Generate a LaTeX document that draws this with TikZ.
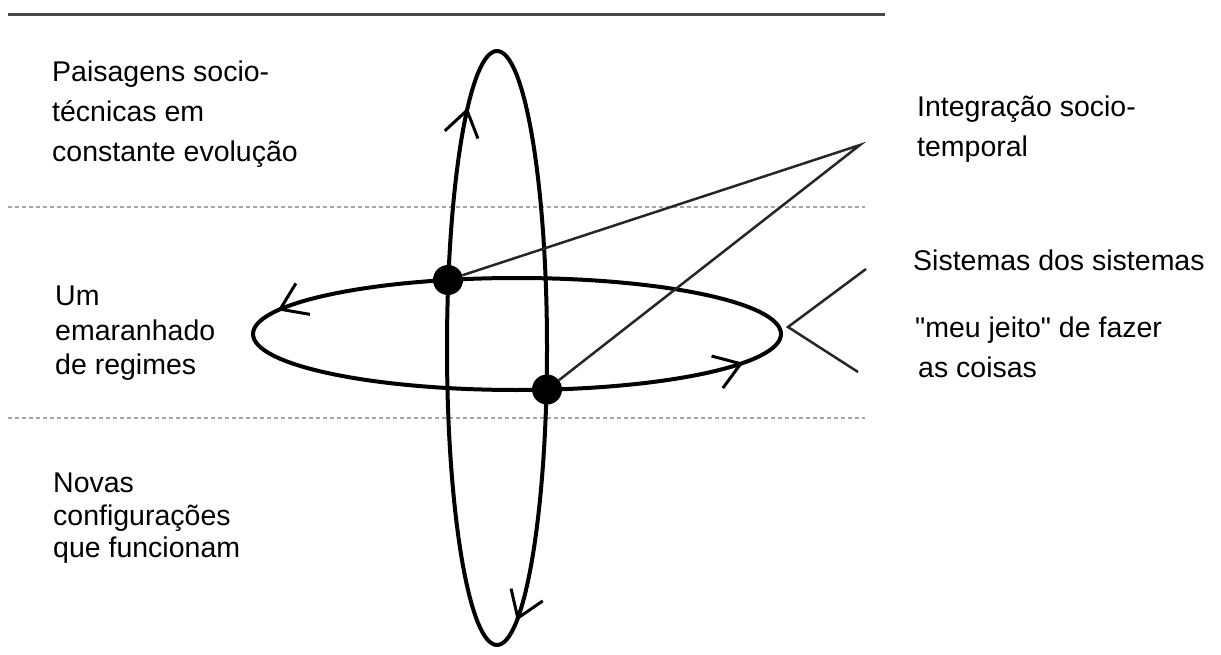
\documentclass[tikz,border=0pt]{standalone}
\usepackage{fontspec}
\setmainfont{Liberation Sans}[Ligatures=TeXOff]
\usetikzlibrary{arrows.meta}
\begin{document}
\begin{tikzpicture}[x=1pt,y=1pt,
  loopline/.style={line width=4pt},
  conn/.style={line width=2.5pt, draw=black!85},
  tipmark/.style={line width=3pt,-{Straight Barb[length=25pt,width=34pt]}},
  lbl/.style={anchor=base west, inner sep=0pt, font=\fontsize{28.5}{33}\selectfont},
  dotnode/.style={circle, fill=black, minimum size=30pt, inner sep=0pt},
  guide/.style={draw=black!35, line width=1.5pt, dash pattern=on 4pt off 3pt}]
\useasboundingbox (0,0) rectangle (1221,-655);
% guide lines
\draw[line width=3pt, draw=black!72] (8,-15) -- (885,-15);
\draw[guide] (8,-207) -- (865,-207);
\draw[guide] (8,-418) -- (865,-418);
% loops
\draw[loopline] (517,-334) ellipse [x radius=264pt, y radius=56pt];
\draw[loopline] (497,-348) ellipse [x radius=50pt, y radius=297pt];
% arrow tips
\draw[tipmark] (517,-334) ++(147:264pt and 56pt) arc[start angle=147, end angle=155, x radius=264pt, y radius=56pt];
\draw[tipmark] (517,-334) ++(321:264pt and 56pt) arc[start angle=321, end angle=329, x radius=264pt, y radius=56pt];
\draw[tipmark] (497,-348) ++(135:50pt and 297pt) arc[start angle=135, end angle=126, x radius=50pt, y radius=297pt];
\draw[tipmark] (497,-348) ++(-57:50pt and 297pt) arc[start angle=-57, end angle=-66.6, x radius=50pt, y radius=297pt];
% dots and connectors
\node[dotnode] (d1) at (448,-280) {};
\node[dotnode] (d2) at (547,-389.5) {};
\coordinate (A) at (860,-145);
\coordinate (V) at (788,-327);
\coordinate (V1) at (866,-269);
\coordinate (V2) at (858,-372);
\draw[conn] (d1) -- (A) -- (d2);
\draw[conn] (V1) -- (V) -- (V2);
% labels
\node[lbl] (p1) at (52,-82) {Paisagens socio-};
\node[lbl] (p2) at (52,-122) {técnicas em};
\node[lbl] (p3) at (52,-162) {constante evolução};
\node[lbl] (u1) at (55,-305) {Um};
\node[lbl] (u2) at (55,-340) {emaranhado};
\node[lbl] (u3) at (55,-374) {de regimes};
\node[lbl] (n1) at (53,-492) {Novas};
\node[lbl] (n2) at (53,-525) {configurações};
\node[lbl] (n3) at (53,-557) {que funcionam};
\node[lbl] (i1) at (917,-117) {Integração socio-};
\node[lbl] (i2) at (917,-157) {temporal};
\node[lbl] (s1) at (913,-270) {Sistemas dos sistemas};
\node[lbl] (m1) at (915,-337) {"meu jeito" de fazer};
\node[lbl] (m2) at (918,-377) {as coisas};
\end{tikzpicture}
\end{document}
